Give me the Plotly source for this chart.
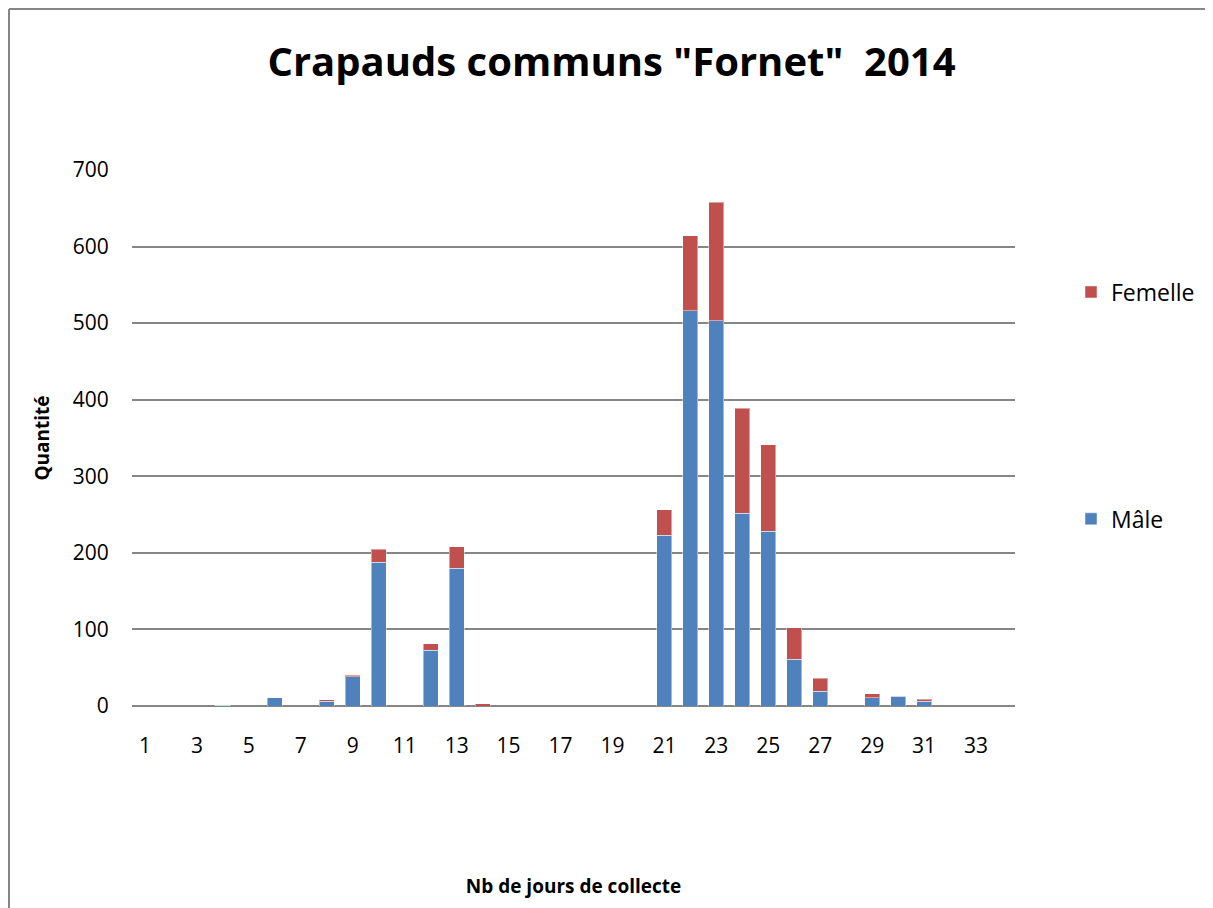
import plotly.graph_objects as go

days = list(range(1, 35))
male = [0, 0, 0, 1, 0, 11, 0, 6, 38, 188, 0, 73, 180, 0, 0, 0, 0, 0, 0, 0,
        223, 516, 503, 252, 228, 61, 19, 0, 11, 13, 6, 0, 0, 0]
female = [0, 0, 0, 0, 0, 0, 0, 2, 2, 17, 0, 8, 28, 3, 0, 0, 0, 0, 0, 0,
          33, 98, 155, 137, 113, 41, 17, 0, 5, 0, 3, 0, 0, 0]
tick_days = list(range(1, 34, 2))
y_ticks = [0, 100, 200, 300, 400, 500, 600, 700]

W, H = 1205, 900
L, R, T, B = 124, 198, 162, 202
FONT = "Open Sans"

fig = go.Figure()
fig.add_trace(go.Bar(x=days, y=male, name="Mâle", legendgroup="m", legendrank=2,
                     marker=dict(color="#4F81BD",
                                 line=dict(color="rgba(255,255,255,0.45)", width=1))))
fig.add_trace(go.Bar(x=days, y=female, name="Femelle", legendgroup="f", legendrank=1,
                     marker=dict(color="#C0504D",
                                 line=dict(color="rgba(255,255,255,0.45)", width=1))))

pw, ph = W - L - R, H - T - B
bx0 = (1 - L) / pw
by1 = (H - B - 1) / ph
fig.add_shape(type="line", xref="paper", yref="paper",
              x0=bx0, x1=bx0, y0=(H - B - H - 5) / ph, y1=by1,
              line=dict(color="#868686", width=2), layer="below")
fig.add_shape(type="line", xref="paper", yref="paper",
              x0=bx0, x1=(W + 5 - L) / pw, y0=by1, y1=by1,
              line=dict(color="#868686", width=2), layer="below")

fig.update_layout(
    width=W, height=H,
    margin=dict(l=L, r=R, t=T, b=B, autoexpand=False),
    paper_bgcolor="white", plot_bgcolor="white",
    barmode="stack", bargap=0.42,
    font=dict(family=FONT, color="black", size=21),
    title=dict(text='Crapauds communs "Fornet"  2014', x=(611.5 - 8) / W, xanchor="center",
               y=1 - 54 / H, yanchor="middle", yref="container",
               font=dict(family=FONT, size=40, color="black", weight="bold")),
    legend=dict(x=(1063 - L) / pw, xanchor="left", y=(H - B - 397.5) / ph, yanchor="middle",
                traceorder="grouped", tracegroupgap=194,
                font=dict(size=23), bgcolor="rgba(0,0,0,0)"),
    xaxis=dict(range=[0.5, 34.5], tickvals=tick_days, ticktext=[str(d) for d in tick_days],
               showgrid=False, zeroline=False, showline=False,
               ticks="outside", ticklen=21, tickcolor="rgba(0,0,0,0)",
               title=dict(text="Nb de jours de collecte", standoff=121,
                          font=dict(size=19, weight="bold")),
               automargin=False),
    yaxis=dict(range=[0, 700], tickvals=y_ticks, showgrid=True, gridcolor="#868686",
               gridwidth=2, zeroline=True, zerolinecolor="#868686", zerolinewidth=2,
               showline=False, ticks="outside", ticklen=18, tickcolor="rgba(0,0,0,0)",
               title=dict(text="Quantité", standoff=18, font=dict(size=19, weight="bold")),
               automargin=False),
)

fig.write_html("out.html")
